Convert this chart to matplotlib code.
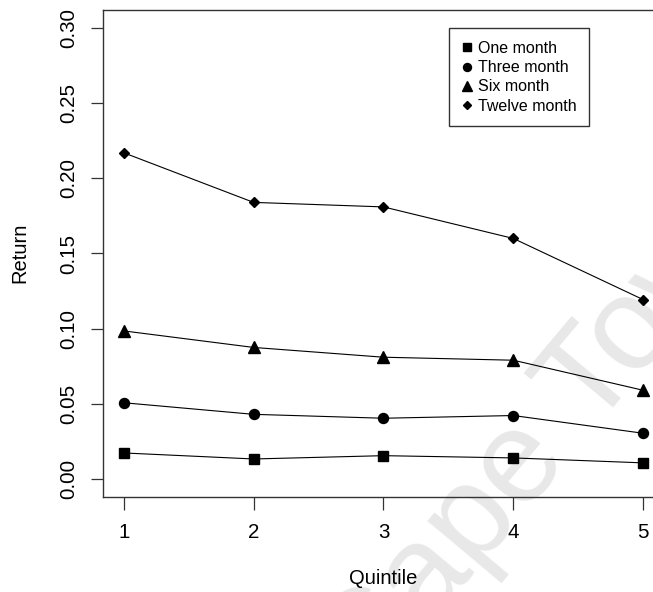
import numpy as np
import matplotlib
matplotlib.use('Agg')
import matplotlib.pyplot as plt

plt.rcParams['font.family'] = ['Liberation Sans', 'DejaVu Sans']

quintile = [1, 2, 3, 4, 5]
one_month = [0.0173, 0.0133, 0.0155, 0.0140, 0.0107]
three_month = [0.0507, 0.0430, 0.0404, 0.0422, 0.0304]
six_month = [0.0985, 0.0875, 0.0810, 0.0790, 0.0590]
twelve_month = [0.2170, 0.1840, 0.1810, 0.1600, 0.1193]
yticks = [0.00, 0.05, 0.10, 0.15, 0.20, 0.25, 0.30]

W, H = 653, 592
fig = plt.figure(figsize=(W / 100, H / 100), dpi=100)
# plot region runs past the right edge, as in the cropped original
ax = fig.add_axes([103 / W, 1 - 497 / H, (664 - 103) / W, (497 - 10) / H])

# faint watermark behind the lines
ax.text(552 / W, 1 - 427 / H, 'Cape Town', rotation=50, fontsize=95,
        color='#e8e8e8', ha='center', va='center', zorder=0,
        transform=fig.transFigure, clip_on=False)

lw = 0.8
ax.plot(quintile, one_month, color='black', lw=lw, marker='s', ms=7, label='One month', zorder=3)
ax.plot(quintile, three_month, color='black', lw=lw, marker='o', ms=7.2, label='Three month', zorder=3)
ax.plot(quintile, six_month, color='black', lw=lw, marker='^', ms=8.5, label='Six month', zorder=3)
ax.plot(quintile, twelve_month, color='black', lw=lw, marker='D', ms=5.2, label='Twelve month', zorder=3)

ax.set_xlim(0.84, 5.16)
ax.set_ylim(-0.012, 0.312)
ax.set_xticks(quintile)
ax.set_xticklabels([str(q) for q in quintile])
ax.set_yticks(yticks)
ax.set_yticklabels(['%.2f' % v for v in yticks], rotation=90, va='center')
for s in ax.spines.values():
    s.set_linewidth(1.0)
    s.set_color('#333333')
ax.tick_params(axis='both', length=9, width=0.9, color='#333333', labelsize=14.8)
ax.tick_params(axis='x', pad=10)
ax.tick_params(axis='y', pad=9)

fig.text(20 / W, 1 - 253 / H, 'Return', rotation=90, fontsize=14.5, ha='center', va='center')
fig.text(383 / W, 1 - 578 / H, 'Quintile', fontsize=14.5, ha='center', va='center')

leg = ax.legend(loc='upper left', bbox_to_anchor=((449 - 103) / 561, 1 - 18 / 487),
                fontsize=11.5, frameon=True, fancybox=False, edgecolor='black',
                handlelength=0.7, handletextpad=0.3, borderpad=0.8, labelspacing=0.27,
                markerscale=0.8, borderaxespad=0)
leg.get_frame().set_linewidth(1.0)
leg.set_zorder(5)
for h in leg.get_lines():
    h.set_linestyle('none')

fig.savefig('out.png', dpi=100)
